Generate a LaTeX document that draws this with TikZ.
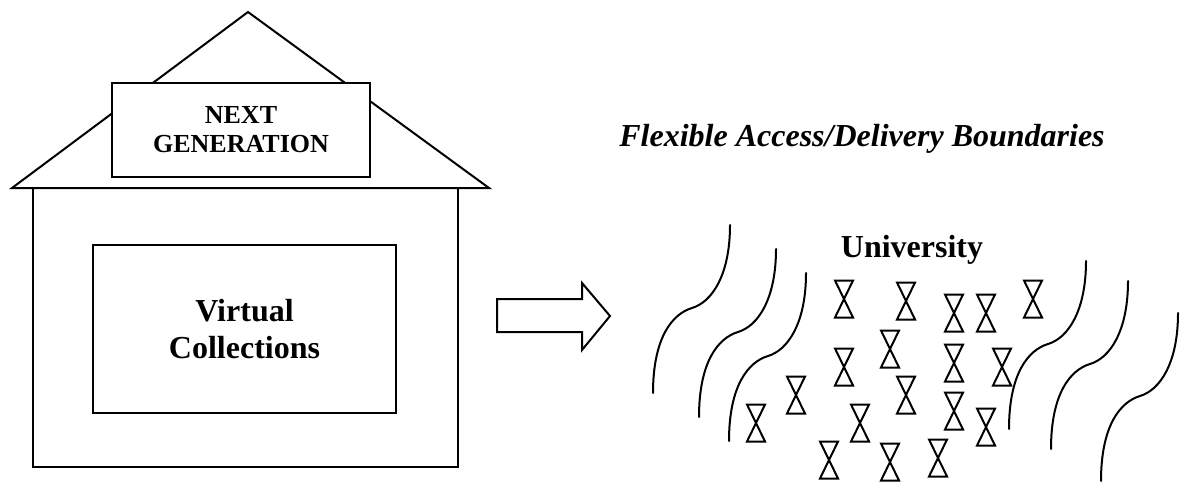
\documentclass[tikz,border=0pt]{standalone}
\usepackage{fontspec}
\setmainfont{Liberation Serif}
\usetikzlibrary{positioning}

\begin{document}
\begin{tikzpicture}[
  x=0.5pt, y=-0.5pt, line width=1pt,
  every node/.style={inner sep=0pt, text=black},
  box/.style   ={draw, fill=white, align=center},
  bigtxt/.style={font=\fontsize{16pt}{18.5pt}\selectfont\bfseries, align=center},
  smalltxt/.style={font=\fontsize{13pt}{14.5pt}\selectfont\bfseries, align=center},
  wave/.style  ={line width=1pt, line cap=round},
  glass/.style ={line width=1pt, line join=miter}]
\useasboundingbox (0,0) rectangle (1181,483);

% the house
\node[box, minimum width=212.5pt, minimum height=139.5pt] (house) at (245.5,327.5) {};
\draw (12,188) -- (248,12) -- (489,188) -- cycle;
\node[box, smalltxt, minimum width=129pt, minimum height=47pt] (nextgen) at (241,130) {NEXT\\GENERATION};
\node[box, bigtxt, minimum width=151.5pt, minimum height=84pt] (virtual) at (244.5,329) {Virtual\\Collections};

% block arrow
\draw[line join=miter] (497,299) -- (582,299) -- (582,283) -- (610,316) -- (582,350)
  -- (582,332) -- (497,332) -- cycle;

% right side
\node[bigtxt, font=\fontsize{16pt}{18.5pt}\selectfont\bfseries\itshape, anchor=base] (boundaries) at (862,146)
  {Flexible Access/Delivery Boundaries};
\node[bigtxt, anchor=base] (univ) at (912,257) {University};

\foreach \x/\y in {730/225, 776/249, 806/273, 1086/261, 1128/281, 1178/313}
  \draw[wave] (\x,\y) .. controls +(0,50) and +(20,-6) .. ++(-38,83)
    .. controls +(-20,6) and +(0,-55) .. ++(-39,85);

\foreach \x/\y in {844/299, 906/301, 954/313, 986/313, 1033/299,
                   890/349, 844/367, 954/363, 1002/367,
                   796/395, 906/395, 954/411,
                   756/423, 860/423, 986/427,
                   829/460, 890/462, 938/458}
  \draw[glass] ({\x-9},{\y-18.5}) -- ++(18,0) -- ++(-18,37) -- ++(18,0) -- cycle;
\end{tikzpicture}
\end{document}
